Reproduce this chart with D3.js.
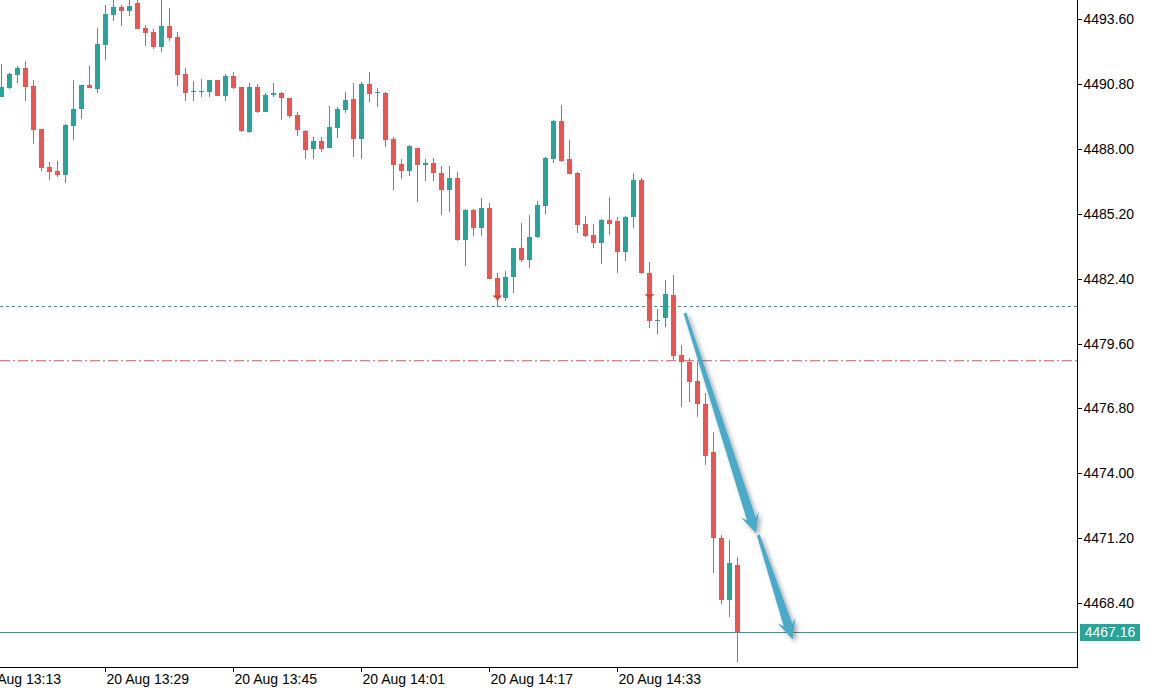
<!DOCTYPE html>
<html><head><meta charset="utf-8">
<script src="https://cdn.jsdelivr.net/npm/d3@7/dist/d3.min.js"></script>
<style>body{margin:0;background:#fff}svg{display:block}</style>
</head><body><svg id="c" width="1153" height="691"></svg>
<script>
// ---------- data ----------
const times = ["13:16","13:17","13:18","13:19","13:20","13:21","13:22","13:23","13:24","13:25","13:26","13:27","13:28","13:29","13:30","13:31","13:32","13:33","13:34","13:35","13:36","13:37","13:38","13:39","13:40","13:41","13:42","13:43","13:44","13:45","13:46","13:47","13:48","13:49","13:50","13:51","13:52","13:53","13:54","13:55","13:56","13:57","13:58","13:59","14:00","14:01","14:02","14:03","14:04","14:05","14:06","14:07","14:08","14:09","14:10","14:11","14:12","14:13","14:14","14:15","14:16","14:17","14:18","14:19","14:20","14:21","14:22","14:23","14:24","14:25","14:26","14:27","14:28","14:29","14:30","14:31","14:32","14:33","14:34","14:35","14:36","14:37","14:38","14:39","14:40","14:41","14:42","14:43","14:44","14:45","14:46","14:47","14:48"];
const opens = [4490.26,4490.63,4491.20,4491.50,4490.72,4488.86,4487.21,4487.05,4486.88,4489.01,4489.71,4490.76,4490.58,4492.50,4493.79,4494.14,4493.97,4494.30,4493.22,4493.05,4492.42,4493.31,4492.82,4491.24,4490.46,4490.47,4490.46,4490.98,4490.30,4491.15,4490.66,4488.75,4490.66,4489.61,4490.32,4490.41,4490.19,4489.47,4488.79,4487.99,4488.35,4488.06,4488.92,4489.68,4490.16,4488.43,4490.81,4490.41,4490.43,4488.43,4487.35,4487.06,4488.03,4487.32,4487.38,4486.96,4486.24,4486.75,4484.07,4485.37,4484.58,4485.44,4482.42,4481.56,4482.46,4483.71,4483.21,4484.19,4485.54,4487.57,4489.22,4487.56,4486.98,4484.76,4484.29,4483.96,4484.94,4484.91,4483.57,4485.05,4486.68,4482.63,4480.58,4480.69,4481.70,4479.11,4478.82,4478.00,4476.99,4474.93,4471.22,4468.53,4470.04];
const highs = [4491.67,4491.29,4491.58,4491.80,4490.98,4488.88,4487.43,4487.48,4489.06,4490.98,4490.78,4491.58,4493.21,4494.22,4494.60,4494.22,4494.55,4494.70,4493.35,4493.17,4494.70,4494.09,4493.04,4491.49,4490.94,4491.01,4491.00,4491.00,4491.24,4491.32,4490.68,4490.84,4490.81,4490.41,4490.84,4490.46,4490.21,4489.61,4488.81,4488.51,4488.51,4489.86,4489.83,4490.47,4490.84,4490.91,4491.31,4490.62,4490.45,4488.51,4487.57,4488.17,4488.05,4487.57,4487.60,4487.25,4487.27,4487.01,4485.39,4485.39,4485.87,4485.66,4482.63,4482.75,4483.73,4484.79,4485.15,4485.76,4487.65,4489.24,4489.90,4488.39,4487.00,4485.11,4484.76,4484.96,4485.94,4485.08,4485.10,4486.98,4486.74,4483.11,4481.09,4482.35,4482.56,4479.54,4478.97,4478.82,4477.45,4475.77,4471.34,4471.12,4470.40];
const lows = [4490.24,4490.58,4490.86,4490.09,4488.22,4487.06,4486.66,4486.78,4486.52,4488.39,4489.31,4490.63,4490.43,4491.84,4493.54,4493.32,4493.76,4493.16,4492.46,4492.31,4492.20,4492.68,4490.72,4490.09,4490.09,4490.26,4490.26,4490.28,4490.09,4490.58,4488.73,4488.70,4489.57,4489.59,4490.23,4489.25,4489.33,4488.56,4487.58,4487.58,4487.88,4488.04,4488.49,4489.54,4487.67,4487.58,4490.04,4489.80,4488.07,4486.23,4486.71,4486.85,4485.73,4486.63,4486.63,4485.16,4485.26,4484.05,4482.95,4484.25,4484.26,4482.37,4481.19,4481.45,4481.80,4483.11,4482.85,4484.17,4485.18,4487.41,4487.46,4486.90,4484.36,4484.19,4483.74,4483.02,4484.29,4482.63,4483.18,4484.61,4482.61,4480.26,4480.01,4480.30,4478.89,4476.88,4477.09,4476.44,4474.36,4469.68,4468.36,4467.78,4465.87];
const closes = [4490.66,4491.24,4491.50,4490.69,4488.82,4487.19,4487.02,4486.88,4489.04,4489.73,4490.76,4490.65,4492.53,4493.83,4494.14,4493.96,4494.17,4493.18,4493.02,4492.42,4493.31,4492.81,4491.20,4490.43,4490.52,4490.52,4490.98,4490.30,4491.15,4490.63,4488.78,4490.66,4489.61,4490.33,4490.41,4490.19,4489.44,4488.82,4487.96,4488.35,4488.00,4488.94,4489.73,4490.12,4488.43,4490.81,4490.39,4490.45,4488.39,4487.31,4487.06,4488.13,4487.31,4487.38,4486.95,4486.24,4486.75,4484.07,4485.37,4484.58,4485.44,4482.39,4481.56,4482.46,4483.71,4483.21,4484.22,4485.58,4487.63,4489.22,4487.48,4486.92,4484.72,4484.25,4483.96,4484.94,4484.76,4483.57,4485.08,4486.66,4482.63,4480.59,4480.60,4481.74,4479.08,4478.79,4477.95,4476.98,4474.76,4471.20,4468.53,4470.12,4467.16];

const yTicks = [4468.40,4471.20,4474.00,4476.80,4479.60,4482.40,4485.20,4488.00,4490.80,4493.60];
const xTickTimes = ["13:13","13:29","13:45","14:01","14:17","14:33"];
const xTickPrefix = "20 Aug ";

const levelDotted = 4481.22;   // dotted teal level
const levelDashDot = 4478.86;  // red dash-dot level
const lastPrice = 4467.16;     // current price line

const sellMarkerTimes = ["14:18","14:37"];
const sellMarkerPrices = [4481.55,4481.60];

// arrows (bar index from 13:16, price)
const arrowStartIdx = [85.46, 94.63];
const arrowStartPx  = [4480.92, 4471.34];
const arrowEndIdx   = [94.34, 98.93];
const arrowEndPx    = [4471.41, 4466.83];

// ---------- layout ----------
const W = 1153, H = 691, plotR = 1077, plotB = 667;
const UP = "#26a69a", DOWN = "#ef5350";
const FONT = "'Liberation Sans', Arial, sans-serif";

const parse = d3.timeParse("%H:%M");
const fmt = d3.timeFormat("%H:%M");
const dates = times.map(parse);
const data = dates.map((d,i)=>({t:d,o:opens[i],h:highs[i],l:lows[i],c:closes[i]}));

const x = d3.scaleTime().domain([dates[0], dates[dates.length-1]]).range([1.3, 737.3]);
const xi = d3.scaleLinear().domain([0, dates.length-1]).range([1.3, 737.3]);
const y = d3.scaleLinear().domain([4468.40, 4493.60]).range([603, 19.3]);
const yc = v => Math.round(y(v)) + 0.5;

const svg = d3.select("#c");
svg.append("rect").attr("width",W).attr("height",H).attr("fill","#fff");

const defs = svg.append("defs");
defs.append("clipPath").attr("id","clip").append("rect").attr("x",0).attr("y",0).attr("width",plotR).attr("height",plotB);
const f = defs.append("filter").attr("id","shadow").attr("x","-50%").attr("y","-50%").attr("width","200%").attr("height","200%");
f.append("feDropShadow").attr("dx",2.5).attr("dy",2.5).attr("stdDeviation",2).attr("flood-color","#000").attr("flood-opacity",0.35);

const plot = svg.append("g").attr("clip-path","url(#clip)");

// level lines
plot.append("line").attr("x1",0).attr("x2",plotR).attr("y1",yc(levelDotted)).attr("y2",yc(levelDotted))
  .attr("stroke","#3f8fa6").attr("stroke-width",1).attr("stroke-dasharray","3,3").attr("shape-rendering","crispEdges");
plot.append("line").attr("x1",0).attr("x2",plotR).attr("y1",y(levelDashDot)).attr("y2",y(levelDashDot))
  .attr("stroke","#e05252").attr("stroke-width",1.1).attr("stroke-dasharray","10,3,2,3");
plot.append("line").attr("x1",0).attr("x2",plotR).attr("y1",yc(lastPrice)).attr("y2",yc(lastPrice))
  .attr("stroke","#2f9a9c").attr("stroke-width",1).attr("shape-rendering","crispEdges");

// candles
const cg = plot.append("g").attr("shape-rendering","crispEdges");
const cand = cg.selectAll("g.c").data(data).join("g").attr("class","c");
cand.append("line")
  .attr("x1",d=>Math.round(x(d.t))+0.5).attr("x2",d=>Math.round(x(d.t))+0.5)
  .attr("y1",d=>y(d.h)).attr("y2",d=>y(d.l))
  .attr("stroke",d=>d.c>=d.o?UP:DOWN).attr("stroke-width",1);
cand.append("rect")
  .attr("x",d=>Math.round(x(d.t))-2).attr("width",5)
  .attr("y",d=>y(Math.max(d.o,d.c)))
  .attr("height",d=>Math.max(1,Math.abs(y(d.o)-y(d.c))))
  .attr("fill",d=>d.c>=d.o?UP:DOWN);

// sell markers
sellMarkerTimes.forEach((t,i)=>{
  const cx = Math.round(x(parse(t)))+0.5, cy = y(sellMarkerPrices[i]);
  plot.append("path")
    .attr("d",`M${cx-5},${cy-3} L${cx+5},${cy-3} L${cx+1.5},${cy} L${cx},${cy+3} L${cx-1.5},${cy} Z`)
    .attr("fill","#d8432f");
});

// blue arrows
function arrowPath(x0,y0,x1,y1){
  const dx=x1-x0, dy=y1-y0, len=Math.hypot(dx,dy);
  const ux=dx/len, uy=dy/len, nx=-uy, ny=ux;
  const hl=20, hw=9.5, w0=1.5, w1=4.6;
  const bx=x1-ux*hl, by=y1-uy*hl;
  const nbx=x1-ux*(hl-5), nby=y1-uy*(hl-5);
  const p=[
    [x0+nx*w0,y0+ny*w0],
    [nbx+nx*w1,nby+ny*w1],
    [bx+nx*hw,by+ny*hw],
    [x1,y1],
    [bx-nx*hw,by-ny*hw],
    [nbx-nx*w1,nby-ny*w1],
    [x0-nx*w0,y0-ny*w0]
  ];
  return "M"+p.map(q=>q[0].toFixed(1)+","+q[1].toFixed(1)).join("L")+"Z";
}
const ag = svg.append("g").attr("filter","url(#shadow)");
arrowStartIdx.forEach((s,i)=>{
  ag.append("path")
    .attr("d",arrowPath(xi(s),y(arrowStartPx[i]),xi(arrowEndIdx[i]),y(arrowEndPx[i])))
    .attr("fill","#4aabc9");
});

// axes frame
svg.append("line").attr("x1",0).attr("x2",plotR+0.5).attr("y1",plotB+0.5).attr("y2",plotB+0.5)
  .attr("stroke","#000").attr("shape-rendering","crispEdges");
svg.append("line").attr("x1",plotR+0.5).attr("x2",plotR+0.5).attr("y1",0).attr("y2",plotB+0.5)
  .attr("stroke","#000").attr("shape-rendering","crispEdges");

// y axis
const ya = svg.append("g").attr("transform",`translate(${plotR+0.5},0)`)
  .call(d3.axisRight(y).tickValues(yTicks).tickSize(4).tickPadding(2).tickFormat(d3.format(".2f")));
ya.select(".domain").remove();
ya.selectAll("line").attr("stroke","#000").attr("shape-rendering","crispEdges");
ya.selectAll("text").attr("font-family",FONT).attr("font-size",14).attr("fill","#000");

// x axis
const xa = svg.append("g").attr("transform",`translate(0,${plotB+0.5})`)
  .call(d3.axisBottom(x).tickValues(xTickTimes.map(parse)).tickSize(4).tickPadding(3)
    .tickFormat(d=>xTickPrefix+fmt(d)));
xa.select(".domain").remove();
xa.selectAll(".tick").attr("transform",d=>`translate(${Math.round(x(d))+0.5},0)`);
xa.selectAll("line").attr("stroke","#000").attr("shape-rendering","crispEdges");
xa.selectAll("text").attr("font-family",FONT).attr("font-size",14).attr("fill","#000")
  .attr("text-anchor","start").attr("x",1);

// price label
const py = y(lastPrice);
svg.append("rect").attr("x",plotR+3).attr("y",Math.round(py)-8).attr("width",60).attr("height",17).attr("fill",UP);
svg.append("text").attr("x",plotR+33).attr("y",py).attr("dy","0.36em").attr("text-anchor","middle")
  .attr("font-family",FONT).attr("font-size",14).attr("fill","#fff").text(d3.format(".2f")(lastPrice));
</script></body></html>
